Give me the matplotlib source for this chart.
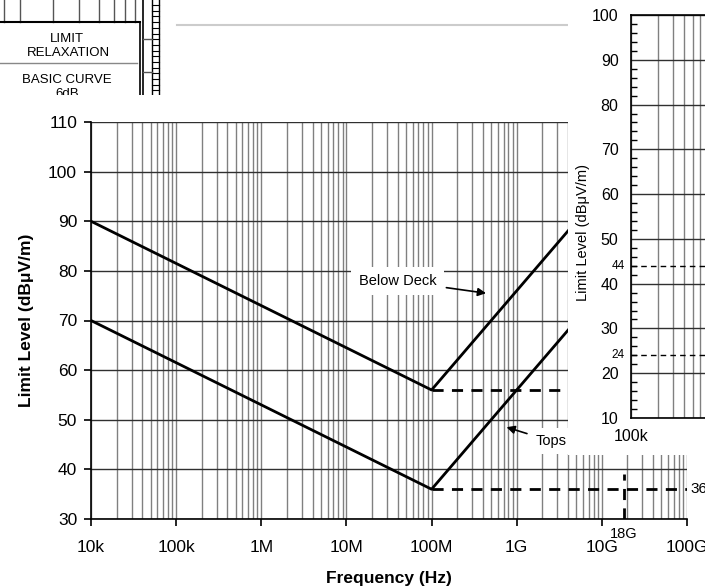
"""
Limit level vs frequency chart, partly covered by a second panel and a table fragment.
"""
import numpy as np
import matplotlib.pyplot as plt
from matplotlib.patches import Rectangle
from matplotlib.ticker import FixedLocator, NullFormatter, LogLocator

plt.rcParams['font.family'] = ['Liberation Sans', 'DejaVu Sans']

# main chart data
below_deck_freq = [1e4, 1e8, 1e10]
below_deck_level = [90, 56, 96]
tops_freq = [1e4, 1e8, 1e10]
tops_level = [70, 36, 76]
below_deck_floor = 56
tops_floor = 36
floor_freq = [1e8, 1e11]
cutoff_freq = 18e9
cutoff_level = [30, 39]

freq_ticks = [1e4, 1e5, 1e6, 1e7, 1e8, 1e9, 1e10, 1e11]
freq_labels = ['10k', '100k', '1M', '10M', '100M', '1G', '10G', '100G']
level_ticks = [30, 40, 50, 60, 70, 80, 90, 100, 110]

# second panel data
panel_levels = [10, 20, 30, 40, 50, 60, 70, 80, 90, 100]
panel_dashed = [44, 24]

W, H = 705, 588
fig = plt.figure(figsize=(7.05, 5.88), dpi=100)


def px(x0, y0, x1, y1):
    # pixel box (top-left origin) -> figure fraction rect
    return [x0 / W, 1 - y1 / H, (x1 - x0) / W, (y1 - y0) / H]


# ---- main chart ----
ax = fig.add_axes(px(91, 122, 687, 519), zorder=1)
ax.set_xscale('log')
ax.set_xlim(1e4, 1e11)
ax.set_ylim(30, 110)

ax.xaxis.set_major_locator(FixedLocator(freq_ticks))
ax.set_xticklabels(freq_labels)
ax.xaxis.set_minor_locator(LogLocator(base=10, subs=np.arange(2, 10)))
ax.xaxis.set_minor_formatter(NullFormatter())
ax.set_yticks(level_ticks)

ax.grid(True, which='major', axis='y', color='#303030', lw=1.0)
ax.grid(True, which='both', axis='x', color='#808080', lw=1.0)
ax.set_axisbelow(True)

for s in ['top', 'right']:
    ax.spines[s].set_visible(False)
for s in ['left', 'bottom']:
    ax.spines[s].set_color('black')
    ax.spines[s].set_linewidth(1.2)

ax.tick_params(axis='both', which='major', direction='out', length=5, width=1.2,
               labelsize=12.5, colors='black')
ax.tick_params(axis='x', which='major', pad=10)
ax.tick_params(axis='y', which='major', pad=5)
ax.tick_params(axis='x', which='minor', length=0)

ax.plot(below_deck_freq, below_deck_level, color='black', lw=2)
ax.plot(tops_freq, tops_level, color='black', lw=2)
ax.plot(floor_freq, [below_deck_floor] * 2, color='black', lw=2, ls=(0, (4, 3)))
ax.plot(floor_freq, [tops_floor] * 2, color='black', lw=2, ls=(0, (4, 3)))
ax.plot([cutoff_freq] * 2, cutoff_level, color='black', lw=2, ls=(0, (4, 3)))

ax.text(cutoff_freq, 28.3, '18G', ha='center', va='top', fontsize=10.5)
ax.text(1.1e11, tops_floor, '36', ha='left', va='center', fontsize=11,
        clip_on=False)

ax.annotate('Below Deck', xy=(10 ** 8.64, 75.5), xytext=(10 ** 7.6, 78),
            ha='center', va='center', fontsize=10.5,
            bbox=dict(boxstyle='square,pad=0.5', fc='white', ec='none'),
            arrowprops=dict(arrowstyle='-|>', color='black', lw=1.2,
                            mutation_scale=12, shrinkA=2, shrinkB=0))
ax.annotate('Tops', xy=(10 ** 8.88, 48.5), xytext=(10 ** 9.22, 45.7),
            ha='left', va='center', fontsize=10.5,
            bbox=dict(boxstyle='square,pad=0.4', fc='white', ec='none'),
            arrowprops=dict(arrowstyle='-|>', color='black', lw=1.2,
                            mutation_scale=12, shrinkA=2, shrinkB=0))

ax.set_xlabel('Frequency (Hz)', fontsize=12.5, fontweight='bold', labelpad=12)
ax.set_ylabel('Limit Level (dBμV/m)', fontsize=12.5, fontweight='bold', labelpad=10)

# ---- white cover behind the second panel ----
fig.patches.append(Rectangle((568 / W, 1 - 455 / H), 1, 1,
                             transform=fig.transFigure, fc='white', ec='none',
                             zorder=2))

# ---- second panel ----
ax2 = fig.add_axes(px(631, 15, 631 + 6 * 88.6, 418), zorder=3)
ax2.set_xscale('log')
ax2.set_xlim(1e5, 1e11)
ax2.set_ylim(10, 100)
ax2.set_yticks(panel_levels)
ax2.set_yticks(np.arange(10, 101, 2), minor=True)
ax2.xaxis.set_major_locator(FixedLocator([1e5]))
ax2.set_xticklabels(['100k'])
ax2.xaxis.set_minor_locator(LogLocator(base=10, subs=np.arange(2, 10)))
ax2.xaxis.set_minor_formatter(NullFormatter())
ax2.grid(True, which='major', axis='y', color='#303030', lw=1.0)
ax2.grid(True, which='both', axis='x', color='#808080', lw=1.0)
ax2.set_axisbelow(True)
ax2.spines['right'].set_visible(False)
for s in ['left', 'top', 'bottom']:
    ax2.spines[s].set_linewidth(1.2)
ax2.tick_params(axis='y', which='major', length=0, pad=9, labelsize=11.5)
ax2.tick_params(axis='y', which='minor', direction='in', length=4, width=1)
ax2.tick_params(axis='x', which='major', length=0, pad=8, labelsize=11.5)
ax2.tick_params(axis='x', which='minor', length=0)
for lvl in panel_dashed:
    ax2.axhline(lvl, color='black', lw=1, ls=(0, (4, 3)))
    ax2.text(-0.012, lvl, str(lvl), transform=ax2.get_yaxis_transform(),
             ha='right', va='center', fontsize=8.5)
ax2.set_ylabel('Limit Level (dBμV/m)', fontsize=10.5)
ax2.yaxis.set_label_coords(-0.077, 0.46)

# ---- table fragment, top left ----
ax3 = fig.add_axes(px(0, 0, 170, 95), zorder=3)
ax3.set_xlim(0, 170)
ax3.set_ylim(95, 0)
ax3.axis('off')
for x in [4, 20, 53, 79, 99, 114, 125, 135]:
    ax3.plot([x, x], [0, 21.5], color='#555555', lw=1)
ax3.plot([0, 140], [21.5, 21.5], color='black', lw=1.5)
ax3.plot([140, 140], [21.5, 95], color='black', lw=1.2)
ax3.plot([143, 143], [0, 95], color='black', lw=1.2)
ax3.plot([152, 152], [0, 95], color='black', lw=1)
ax3.plot([159, 159], [0, 95], color='black', lw=1)
for y in np.arange(5, 95, 5.7):
    ax3.plot([152, 159], [y, y], color='black', lw=0.8)
ax3.plot([143, 152], [39, 39], color='#555555', lw=1)
ax3.plot([143, 152], [72, 72], color='#555555', lw=1)
ax3.plot([0, 137], [63, 63], color='#888888', lw=1)
ax3.text(67, 39, 'LIMIT', ha='center', va='center', fontsize=9.5)
ax3.text(68, 52.5, 'RELAXATION', ha='center', va='center', fontsize=9.5)
ax3.text(67, 80, 'BASIC CURVE', ha='center', va='center', fontsize=9.5)
ax3.text(67, 94, '6dB', ha='center', va='center', fontsize=9.5, clip_on=True)

# thin gray rule along the top
fig.add_artist(plt.Line2D([177 / W, 568 / W], [1 - 25 / H] * 2,
                          color='#cccccc', lw=1.5))

fig.savefig('out.png', dpi=100)
